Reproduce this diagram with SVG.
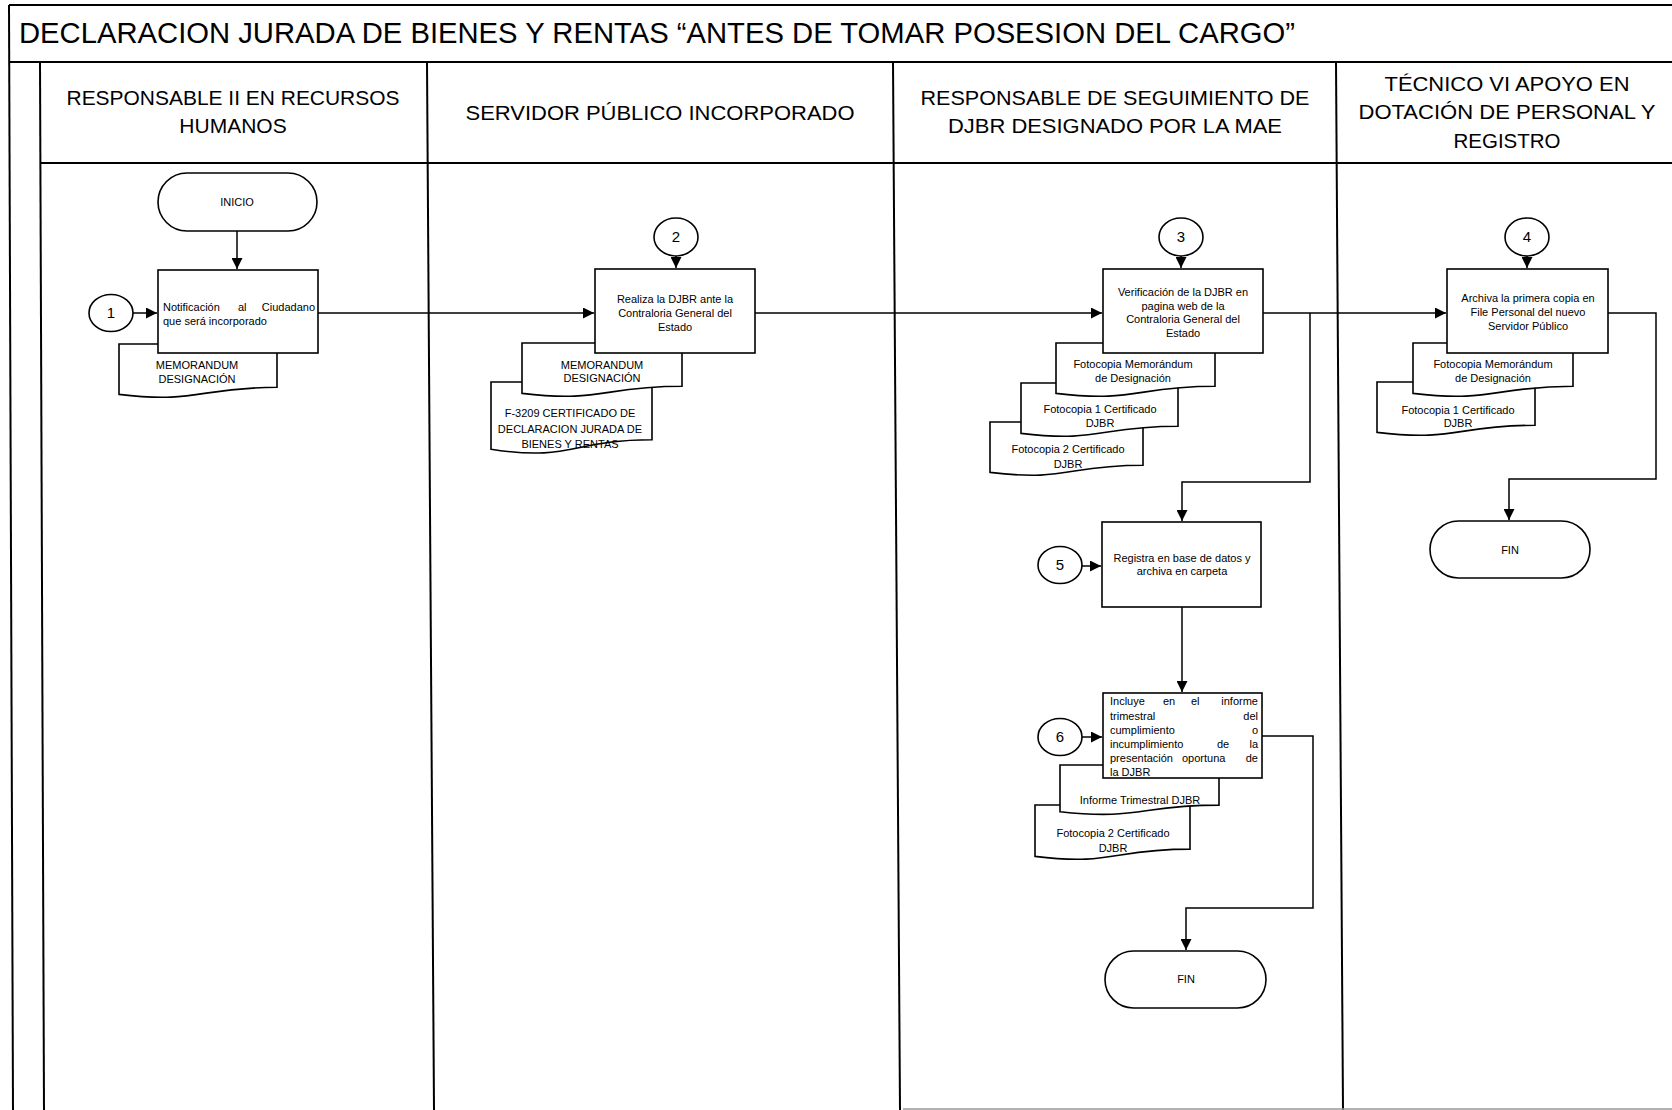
<svg xmlns="http://www.w3.org/2000/svg" width="1672" height="1110" viewBox="0 0 1672 1110">
<style>
text{font-family:"Liberation Sans",Arial,sans-serif;fill:#000}
.ttl{font-size:29px}
.hd{font-size:21px;text-anchor:middle}
.t{font-size:11px}
.c{text-anchor:middle}
.e{text-anchor:end}
.num{font-size:15px;text-anchor:middle}
.frame{stroke:#000;stroke-width:2;fill:none}
.shape{fill:#fff;stroke:#000;stroke-width:1.6}
.conn{fill:none;stroke:#000;stroke-width:1.5}
</style>
<defs>
<marker id="arr" markerUnits="userSpaceOnUse" markerWidth="12" markerHeight="11" refX="11" refY="5.5" orient="auto">
<path d="M0,0 L11,5.5 L0,11 z" fill="#000"/>
</marker>
</defs>
<rect width="1672" height="1110" fill="#fff"/>

<g id="frame">
<line class="frame" x1="9" y1="5" x2="1672" y2="5"/>
<line class="frame" x1="9" y1="5" x2="13" y2="1110"/>
<line class="frame" x1="9" y1="62" x2="1672" y2="62"/>
<line class="frame" x1="40" y1="62" x2="44" y2="1110"/>
<line class="frame" x1="40" y1="163" x2="1672" y2="163"/>
<line class="frame" x1="427" y1="62" x2="434" y2="1110"/>
<line class="frame" x1="893" y1="62" x2="900" y2="1110"/>
<line class="frame" x1="1336" y1="62" x2="1343" y2="1110"/>
<line x1="903" y1="1109" x2="1672" y2="1109" stroke="#999" stroke-width="1.5"/>
<text class="ttl" x="19" y="43" textLength="1276" lengthAdjust="spacingAndGlyphs">DECLARACION JURADA DE BIENES Y RENTAS “ANTES DE TOMAR POSESION DEL CARGO”</text>
</g>

<g id="lane-headers">
<text class="hd" x="233" y="105" textLength="333" lengthAdjust="spacingAndGlyphs">RESPONSABLE II EN RECURSOS</text>
<text class="hd" x="233" y="133">HUMANOS</text>
<text class="hd" x="660" y="120" textLength="389" lengthAdjust="spacingAndGlyphs">SERVIDOR PÚBLICO INCORPORADO</text>
<text class="hd" x="1115" y="105" textLength="389" lengthAdjust="spacingAndGlyphs">RESPONSABLE DE SEGUIMIENTO DE</text>
<text class="hd" x="1115" y="133" textLength="334" lengthAdjust="spacingAndGlyphs">DJBR DESIGNADO POR LA MAE</text>
<text class="hd" x="1507" y="91" textLength="245" lengthAdjust="spacingAndGlyphs">TÉCNICO VI APOYO EN</text>
<text class="hd" x="1507" y="119" textLength="297" lengthAdjust="spacingAndGlyphs">DOTACIÓN DE PERSONAL Y</text>
<text class="hd" x="1507" y="148" textLength="107" lengthAdjust="spacingAndGlyphs">REGISTRO</text>
</g>

<g id="connectors">
<line class="conn" x1="237" y1="231" x2="237" y2="269" marker-end="url(#arr)"/>
<line class="conn" x1="133" y1="313" x2="157" y2="313" marker-end="url(#arr)"/>
<line class="conn" x1="318" y1="313" x2="594" y2="313" marker-end="url(#arr)"/>
<line class="conn" x1="676" y1="256" x2="676" y2="268" marker-end="url(#arr)"/>
<line class="conn" x1="755" y1="313" x2="1102" y2="313" marker-end="url(#arr)"/>
<line class="conn" x1="1181" y1="256" x2="1181" y2="268" marker-end="url(#arr)"/>
<line class="conn" x1="1263" y1="313" x2="1446" y2="313" marker-end="url(#arr)"/>
<polyline class="conn" points="1310,313 1310,482 1182,482 1182,521" marker-end="url(#arr)"/>
<line class="conn" x1="1082" y1="566" x2="1101" y2="566" marker-end="url(#arr)"/>
<line class="conn" x1="1182" y1="607" x2="1182" y2="692" marker-end="url(#arr)"/>
<line class="conn" x1="1082" y1="737" x2="1102" y2="737" marker-end="url(#arr)"/>
<polyline class="conn" points="1262,736 1313,736 1313,908 1186,908 1186,950" marker-end="url(#arr)"/>
<line class="conn" x1="1527" y1="256" x2="1527" y2="268" marker-end="url(#arr)"/>
<polyline class="conn" points="1608,313 1656,313 1656,479 1509,479 1509,520" marker-end="url(#arr)"/>
</g>

<g id="inicio">
<rect class="shape" x="158" y="173" width="159" height="58" rx="29"/>
<text class="t c" x="237" y="206" font-size="10">INICIO</text>
</g>

<g id="c1">
<ellipse class="shape" cx="111" cy="313" rx="22" ry="18.5"/>
<text class="num" x="111" y="318">1</text>
</g>

<g id="doc-memo-1">
<path class="shape" d="M119,344 H277 V387.3 C198,387.3 198,403.8 119,394.4 Z"/>
<text class="t c" x="197" y="369">MEMORANDUM</text>
<text class="t c" x="197" y="383">DESIGNACIÓN</text>
</g>

<g id="step1">
<rect class="shape" x="158" y="270" width="160" height="83"/>
<text class="t" x="163" y="311">Notificación</text>
<text class="t" x="238" y="311">al</text>
<text class="t e" x="315" y="311">Ciudadano</text>
<text class="t" x="163" y="325">que será incorporado</text>
</g>

<g id="c2">
<ellipse class="shape" cx="676" cy="237" rx="22" ry="19"/>
<text class="num" x="676" y="242">2</text>
</g>

<g id="doc-f3209">
<path class="shape" d="M491,382 H652 V439.7 C571.5,439.7 571.5,461.8 491,449.2 Z"/>
<text class="t c" x="570" y="417">F-3209 CERTIFICADO DE</text>
<text class="t c" x="570" y="433">DECLARACION JURADA DE</text>
<text class="t c" x="570" y="448">BIENES Y RENTAS</text>
</g>

<g id="doc-memo-2">
<path class="shape" d="M522,343 H682 V386.3 C602,386.3 602,402.8 522,393.4 Z"/>
<text class="t c" x="602" y="369">MEMORANDUM</text>
<text class="t c" x="602" y="382">DESIGNACIÓN</text>
</g>

<g id="step2">
<rect class="shape" x="595" y="269" width="160" height="84"/>
<text class="t c" x="675" y="303">Realiza la DJBR ante la</text>
<text class="t c" x="675" y="317">Contraloria General del</text>
<text class="t c" x="675" y="331">Estado</text>
</g>

<g id="c3">
<ellipse class="shape" cx="1181" cy="237" rx="22" ry="19"/>
<text class="num" x="1181" y="242">3</text>
</g>

<g id="doc-foto2-a">
<path class="shape" d="M990,422 H1143 V465.3 C1066.5,465.3 1066.5,481.8 990,472.4 Z"/>
<text class="t c" x="1068" y="453">Fotocopia 2 Certificado</text>
<text class="t c" x="1068" y="468">DJBR</text>
</g>

<g id="doc-foto1-a">
<path class="shape" d="M1021,383 H1178 V426.3 C1099.5,426.3 1099.5,442.8 1021,433.4 Z"/>
<text class="t c" x="1100" y="413">Fotocopia 1 Certificado</text>
<text class="t c" x="1100" y="427">DJBR</text>
</g>

<g id="doc-fotomemo-a">
<path class="shape" d="M1056,343 H1215 V386.3 C1135.5,386.3 1135.5,402.8 1056,393.4 Z"/>
<text class="t c" x="1133" y="368">Fotocopia Memorándum</text>
<text class="t c" x="1133" y="382">de Designación</text>
</g>

<g id="step3">
<rect class="shape" x="1103" y="269" width="160" height="84"/>
<text class="t c" x="1183" y="296">Verificación de la DJBR en</text>
<text class="t c" x="1183" y="310">pagina web de la</text>
<text class="t c" x="1183" y="323">Contraloria General del</text>
<text class="t c" x="1183" y="337">Estado</text>
</g>

<g id="c5">
<ellipse class="shape" cx="1060" cy="565" rx="22" ry="18.5"/>
<text class="num" x="1060" y="570">5</text>
</g>

<g id="step5">
<rect class="shape" x="1102" y="522" width="159" height="85"/>
<text class="t c" x="1182" y="562">Registra en base de datos y</text>
<text class="t c" x="1182" y="575">archiva en carpeta</text>
</g>

<g id="c6">
<ellipse class="shape" cx="1060" cy="737" rx="22" ry="18.5"/>
<text class="num" x="1060" y="742">6</text>
</g>

<g id="doc-foto2-b">
<path class="shape" d="M1035,805 H1190 V849.1 C1112.5,849.1 1112.5,865.9 1035,856.4 Z"/>
<text class="t c" x="1113" y="837">Fotocopia 2 Certificado</text>
<text class="t c" x="1113" y="852">DJBR</text>
</g>

<g id="doc-informe">
<path class="shape" d="M1060,765 H1219 V805.1 C1139.5,805.1 1139.5,820.4 1060,811.7 Z"/>
<text class="t c" x="1140" y="804">Informe Trimestral DJBR</text>
</g>

<g id="step6">
<rect class="shape" x="1103" y="693" width="159" height="85"/>
<text class="t" x="1110" y="705">Incluye</text>
<text class="t" x="1163" y="705">en</text>
<text class="t" x="1191" y="705">el</text>
<text class="t e" x="1258" y="705">informe</text>
<text class="t" x="1110" y="720">trimestral</text>
<text class="t e" x="1258" y="720">del</text>
<text class="t" x="1110" y="734">cumplimiento</text>
<text class="t e" x="1258" y="734">o</text>
<text class="t" x="1110" y="748">incumplimiento</text>
<text class="t" x="1217" y="748">de</text>
<text class="t e" x="1258" y="748">la</text>
<text class="t" x="1110" y="762">presentación</text>
<text class="t" x="1182" y="762">oportuna</text>
<text class="t e" x="1258" y="762">de</text>
<text class="t" x="1110" y="776">la DJBR</text>
</g>

<g id="fin-1">
<rect class="shape" x="1105" y="951" width="161" height="57" rx="28.5"/>
<text class="t c" x="1186" y="983" font-size="10">FIN</text>
</g>

<g id="c4">
<ellipse class="shape" cx="1527" cy="237" rx="22" ry="19"/>
<text class="num" x="1527" y="242">4</text>
</g>

<g id="doc-foto1-b">
<path class="shape" d="M1377,382 H1535 V425.3 C1456,425.3 1456,441.8 1377,432.4 Z"/>
<text class="t c" x="1458" y="414">Fotocopia 1 Certificado</text>
<text class="t c" x="1458" y="427">DJBR</text>
</g>

<g id="doc-fotomemo-b">
<path class="shape" d="M1413,343 H1573 V386.3 C1493,386.3 1493,402.8 1413,393.4 Z"/>
<text class="t c" x="1493" y="368">Fotocopia Memorándum</text>
<text class="t c" x="1493" y="382">de Designación</text>
</g>

<g id="step4">
<rect class="shape" x="1447" y="269" width="161" height="84"/>
<text class="t c" x="1528" y="302">Archiva la primera copia en</text>
<text class="t c" x="1528" y="316">File Personal del nuevo</text>
<text class="t c" x="1528" y="330">Servidor Público</text>
</g>

<g id="fin-2">
<rect class="shape" x="1430" y="521" width="160" height="57" rx="28.5"/>
<text class="t c" x="1510" y="554" font-size="10">FIN</text>
</g>
</svg>
